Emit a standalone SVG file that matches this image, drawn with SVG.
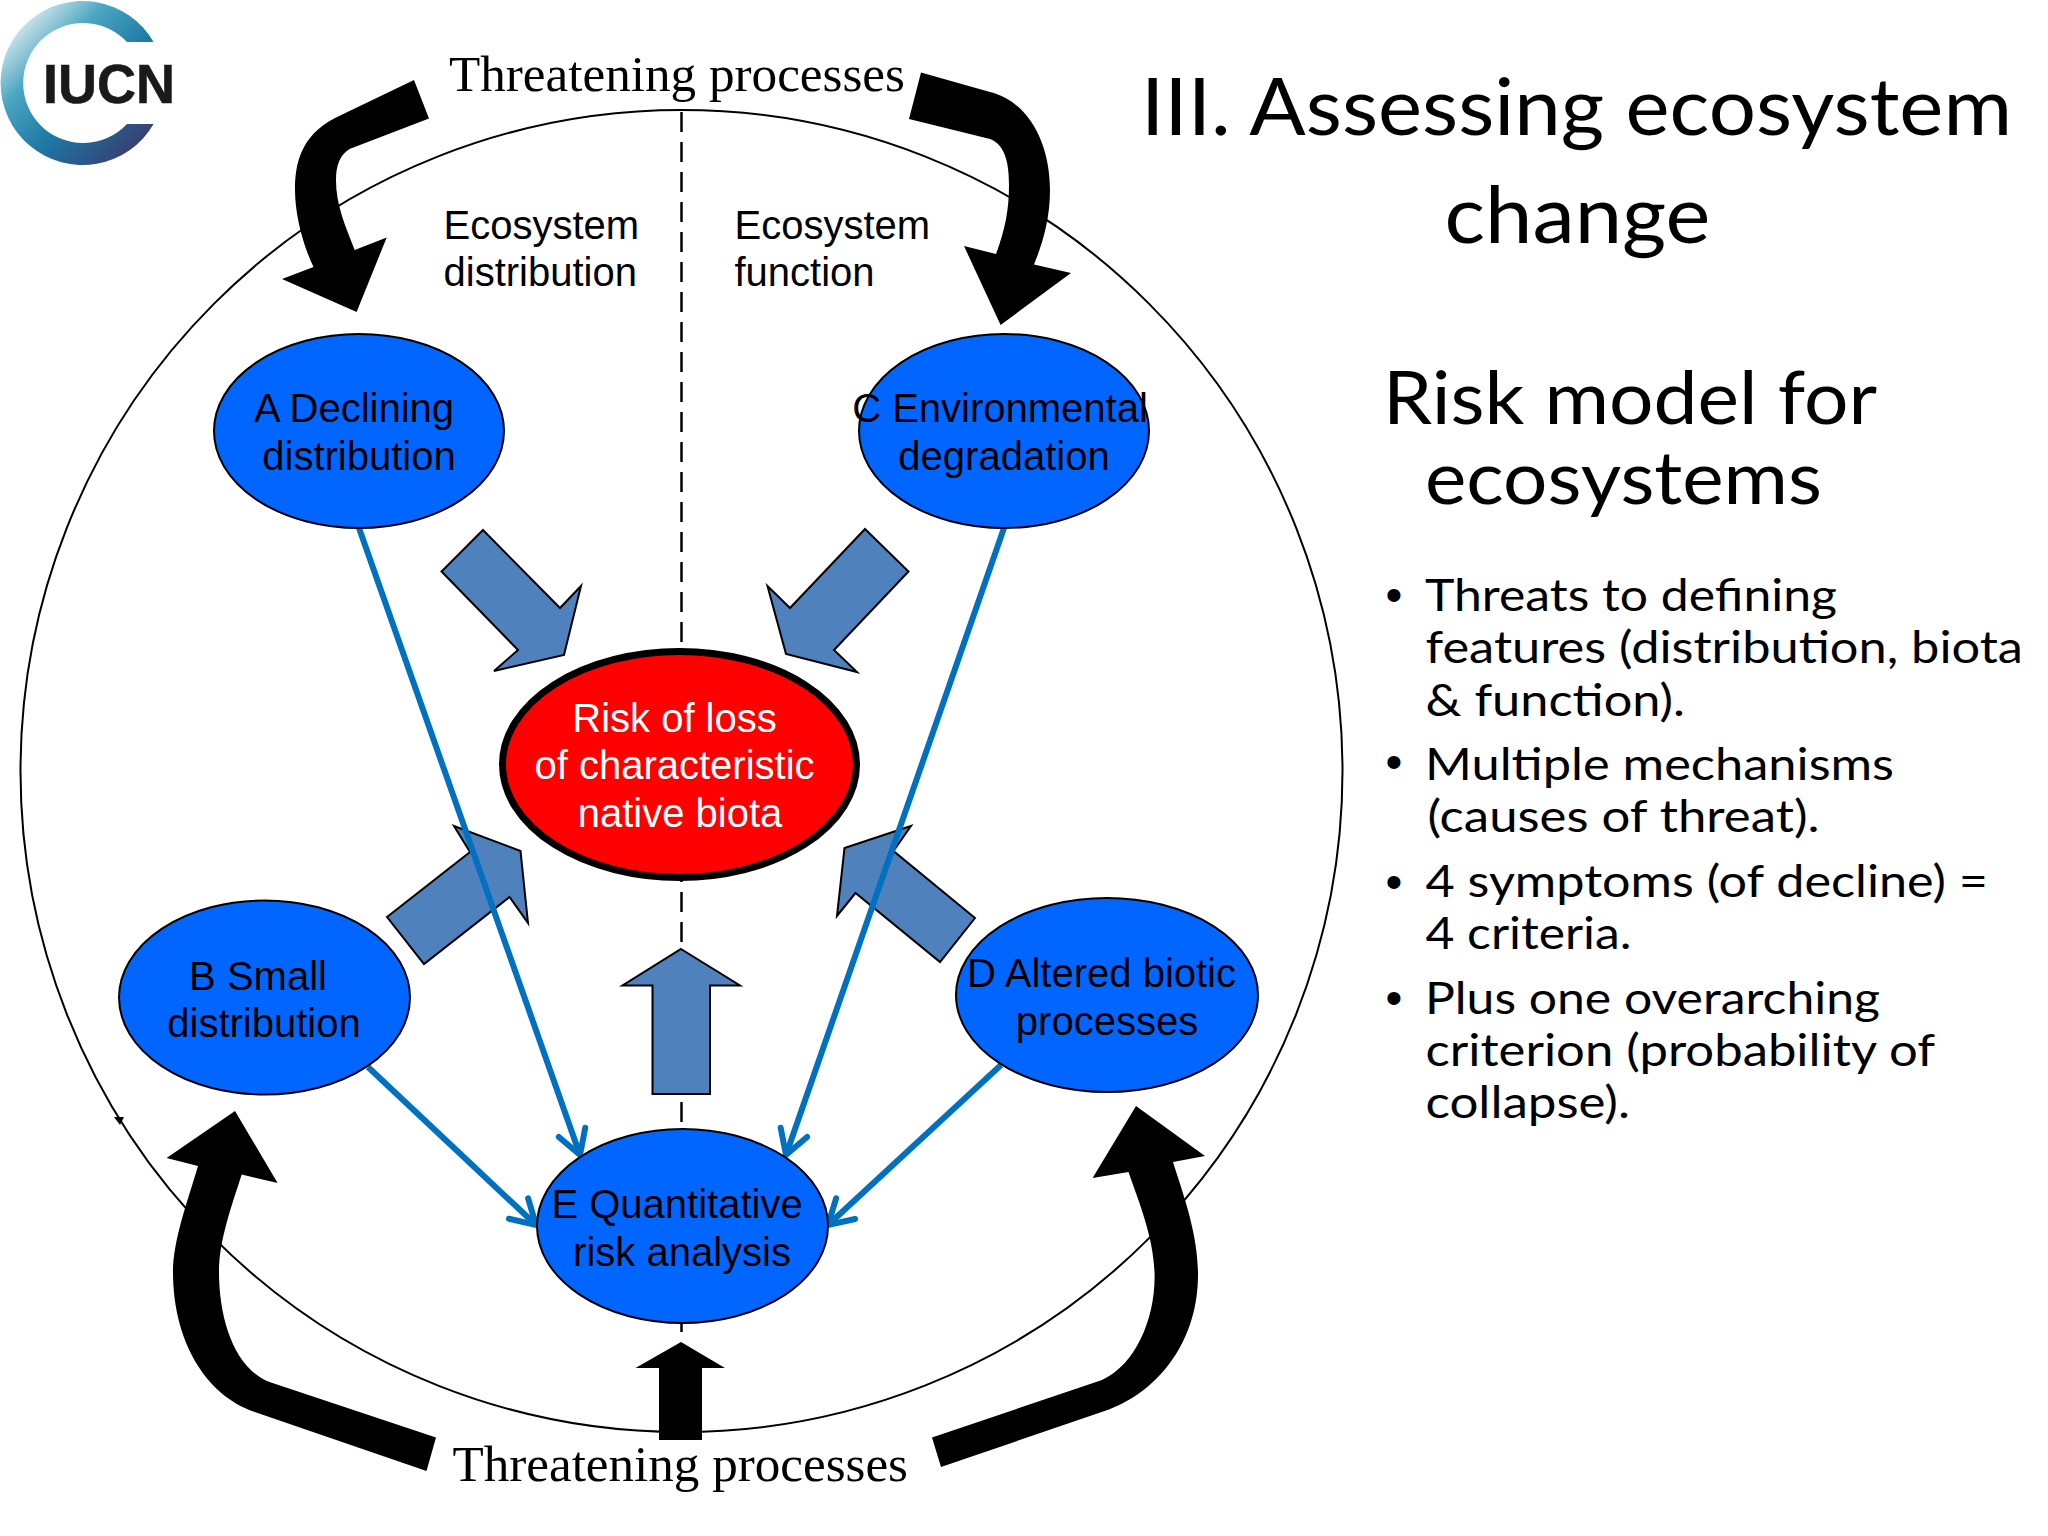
<svg xmlns="http://www.w3.org/2000/svg" width="2048" height="1536" viewBox="0 0 2048 1536">
<style>
.n{fill:#0066ff;stroke:#000;stroke-width:2}
.s{font-family:"Liberation Sans",Arial,sans-serif;font-size:40px;fill:#000;text-anchor:middle}
.w{fill:#fff}
.e{font-family:"Liberation Sans",Arial,sans-serif;font-size:40px;fill:#000}
.t{font-family:"Liberation Serif","Times New Roman",serif;font-size:51px;fill:#000}
.l{font-family:Lato,"Open Sans",sans-serif;fill:#000}
.h1{font-size:80px}.h2{font-size:74px}.b{font-size:44.5px}
.d{font-family:"Liberation Sans",Arial,sans-serif;font-size:48px;fill:#000;text-anchor:middle}
.ba{fill:#4f81bd;stroke:#000;stroke-width:2;stroke-linejoin:miter}
.bk{fill:#000}
.th{fill:none;stroke:#0070c0;stroke-width:6}
</style>
<defs>
<linearGradient id="ring" gradientUnits="userSpaceOnUse" x1="15" y1="20" x2="140" y2="145">
<stop offset="0" stop-color="#e4f0f3"/><stop offset="0.3" stop-color="#4aa6c1"/><stop offset="0.6" stop-color="#1f7aa6"/><stop offset="0.82" stop-color="#2b5a8c"/><stop offset="1" stop-color="#37406f"/>
</linearGradient>
<marker id="open" markerUnits="userSpaceOnUse" markerWidth="44" markerHeight="44" viewBox="-34 -22 44 44" refX="0" refY="0" orient="auto">
<path d="M-24,-14 L0,0 L-24,14" fill="none" stroke="#0070c0" stroke-width="6" stroke-linecap="round"/>
</marker>
</defs>
<rect width="2048" height="1536" fill="#fff"/>
<g id="logo">
<path d="M153.6,42 A82,82 0 1 0 153.6,124 L127,124 A60,60 0 1 1 127,42 Z" fill="url(#ring)"/>
<text x="43" y="103" font-family="'Liberation Sans',Arial,sans-serif" font-weight="bold" font-size="56" fill="#1a1a1a" stroke="#1a1a1a" stroke-width="0.6" textLength="132" lengthAdjust="spacingAndGlyphs">IUCN</text>
</g>
<g id="boundary">
<circle cx="681.5" cy="771" r="661" fill="none" stroke="#000" stroke-width="2"/>
<path d="M114,1117 L124,1117 L120,1125 Z" fill="#000"/>
<path d="M681.5,112 V1334" fill="none" stroke="#000" stroke-width="2.5" stroke-dasharray="20 10"/>
</g>
<g id="connectors">
<path class="ba" d="M483,530 L560,608 L581,586 L564,655 L494,671 L518,650 L441.5,571.5 Z"/>
<path class="ba" d="M865,529 L908.5,571.5 L834,650 L857,672 L786,654 L767.5,586 L790,608 Z"/>
<path class="ba" d="M387,917 L470,852 L454,826 L520.5,851 L528,923 L509.5,897 L424,964 Z"/>
<path class="ba" d="M975,918 L893.5,851 L911,826 L844.5,848 L837,916 L855.5,893 L940,962 Z"/>
<path class="ba" d="M681,949 L740,985.5 L710,985.5 L710,1094 L652.5,1094 L652.5,985.5 L622.5,985.5 Z"/>
<path class="bk" d="M414,80 L335,118 C300,136 295,165 295,190 C295,215 303,245 313.5,267 L282,279 L356.6,312 L386.7,237.5 L354.7,250 C345,225 336,205 336,180 C336,165 340,155 349.5,149 L429,118.5 Z"/>
<path class="bk" d="M921,72.5 L990,92 C1030,102 1050,145 1050,190 C1050,220 1042,245 1034,264.5 L1071,273 L1000.6,325 L964,246 L996,254 C1005,230 1009,210 1009,185 C1009,165 1006,145 990,139 L909,119 Z"/>
<path class="bk" d="M436,1437.5 L271,1382.6 C235,1370 219,1320 219,1272 C219,1240 232,1205 241.7,1174.5 L277.6,1183 L235,1111 L166.6,1158 L198,1166 C188,1200 173,1240 173,1272 C173,1340 205,1395 254.7,1412 L426.5,1471 Z"/>
<path class="bk" d="M932,1437.5 L1102,1380 C1135,1365 1154.6,1320 1154.6,1277 C1154.6,1240 1140,1205 1128.5,1172 L1092.6,1178 L1136,1106 L1205,1156 L1173,1162 C1185,1200 1198,1235 1198,1275 C1198,1340 1160,1390 1109,1409.5 L941,1467 Z"/>
<path class="bk" d="M681,1342 L725,1368 L702,1368 L702,1440 L659,1440 L659,1368 L635.5,1368 Z"/>
<path class="th" d="M359,528 L580,1155" marker-end="url(#open)"/>
<path class="th" d="M1004,528 L786,1155" marker-end="url(#open)"/>
<path class="th" d="M368,1067 L536,1225" marker-end="url(#open)"/>
<path class="th" d="M1001,1065 L828,1225" marker-end="url(#open)"/>
</g>
<g id="node-a"><ellipse class="n" cx="359" cy="431" rx="145" ry="97"/><text class="s" x="354" y="422">A Declining</text><text class="s" x="359" y="470">distribution</text></g>
<g id="node-c"><ellipse class="n" cx="1004" cy="431" rx="145" ry="97"/><text class="s" x="1000" y="422">C Environmental</text><text class="s" x="1004" y="470">degradation</text></g>
<g id="node-b"><ellipse class="n" cx="264.5" cy="997.5" rx="145.5" ry="97"/><text class="s" x="258" y="990">B Small</text><text class="s" x="264" y="1037">distribution</text></g>
<g id="node-d"><ellipse class="n" cx="1107" cy="995" rx="151" ry="97"/><text class="s" x="1101.5" y="987">D Altered biotic</text><text class="s" x="1107" y="1035">processes</text></g>
<g id="node-e"><ellipse class="n" cx="682.5" cy="1226" rx="145.5" ry="97"/><text class="s" x="677" y="1218">E Quantitative</text><text class="s" x="682" y="1266">risk analysis</text></g>
<g id="node-risk"><ellipse cx="679.5" cy="764.5" rx="177" ry="113" fill="#ff0000" stroke="#000" stroke-width="7"/><text class="s w" x="674.5" y="731.5">Risk of loss</text><text class="s w" x="674.5" y="779">of characteristic</text><text class="s w" x="680" y="827">native biota</text></g>
<g id="labels">
<text class="t" x="449" y="90.5" textLength="456" lengthAdjust="spacingAndGlyphs">Threatening processes</text>
<text class="t" x="452.5" y="1480.5" textLength="455.5" lengthAdjust="spacingAndGlyphs">Threatening processes</text>
<text class="e" x="443.5" y="238.5">Ecosystem</text><text class="e" x="443.5" y="285.5">distribution</text>
<text class="e" x="734.5" y="238.5">Ecosystem</text><text class="e" x="734.5" y="285.5">function</text>
</g>
<g id="heading">
<text class="l h1" x="1141" y="134.7" textLength="871" lengthAdjust="spacingAndGlyphs">III. Assessing ecosystem</text>
<text class="l h1" x="1444.5" y="243.4" textLength="266" lengthAdjust="spacingAndGlyphs">change</text>
<text class="l h2" x="1383" y="423.6" textLength="494" lengthAdjust="spacingAndGlyphs">Risk model for</text>
<text class="l h2" x="1425" y="504.4" textLength="397" lengthAdjust="spacingAndGlyphs">ecosystems</text>
</g>
<g id="bullets">
<text class="d" x="1394" y="611">•</text>
<text class="d" x="1394" y="778">•</text>
<text class="d" x="1394" y="897.5">•</text>
<text class="d" x="1394" y="1013.5">•</text>
<text class="l b" x="1425" y="610.7" textLength="412" lengthAdjust="spacingAndGlyphs">Threats to defining</text>
<text class="l b" x="1425.5" y="663" textLength="597.5" lengthAdjust="spacingAndGlyphs">features (distribution, biota</text>
<text class="l b" x="1425.5" y="715.5" textLength="259.5" lengthAdjust="spacingAndGlyphs">&amp; function).</text>
<text class="l b" x="1425" y="780" textLength="469" lengthAdjust="spacingAndGlyphs">Multiple mechanisms</text>
<text class="l b" x="1427.5" y="832" textLength="392" lengthAdjust="spacingAndGlyphs">(causes of threat).</text>
<text class="l b" x="1425.5" y="897" textLength="562.5" lengthAdjust="spacingAndGlyphs">4 symptoms (of decline) =</text>
<text class="l b" x="1425.5" y="949" textLength="206" lengthAdjust="spacingAndGlyphs">4 criteria.</text>
<text class="l b" x="1425" y="1014" textLength="455" lengthAdjust="spacingAndGlyphs">Plus one overarching</text>
<text class="l b" x="1425.5" y="1066" textLength="509.5" lengthAdjust="spacingAndGlyphs">criterion (probability of</text>
<text class="l b" x="1425.5" y="1118" textLength="204.5" lengthAdjust="spacingAndGlyphs">collapse).</text>
</g>
</svg>
